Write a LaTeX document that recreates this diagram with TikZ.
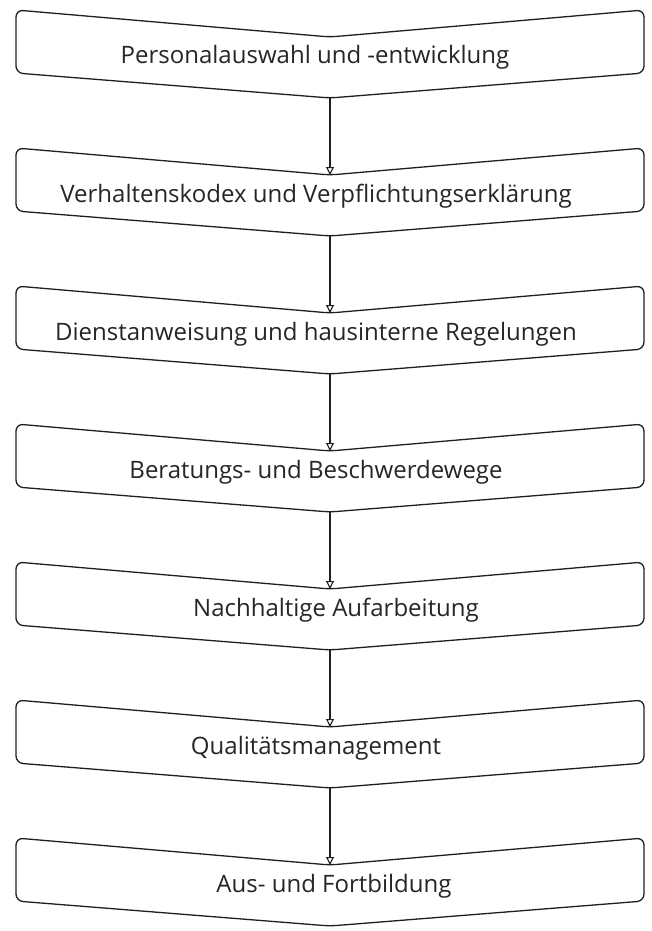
\documentclass[tikz,border=0pt]{standalone}
\usepackage{fontspec}
\setmainfont{Open Sans}
\usetikzlibrary{arrows.meta}
\begin{document}
\begin{tikzpicture}[x=1pt,y=-1pt,
  chev/.style={draw=black!88,line width=1.3pt,rounded corners=7pt,fill=white,line join=round},
  lbl/.style={font=\fontsize{24}{28}\selectfont,inner sep=0pt,text=black!85,anchor=base},
  conn/.style={draw=black!88,line width=1.1pt,-{Triangle[open,width=8pt,length=8pt]}}]
\useasboundingbox (0,0) rectangle (651,931);
\foreach \i/\tx/\t in {1/315/Personalauswahl und -entwicklung,
                   2/316/Verhaltenskodex und Verpflichtungserklärung,
                   3/316/Dienstanweisung und hausinterne Regelungen,
                   4/316/Beratungs- und Beschwerdewege,
                   5/336/Nachhaltige Aufarbeitung,
                   6/316/Qualitätsmanagement,
                   7/334/Aus- und Fortbildung}{
  \pgfmathsetmacro\y{10+138*(\i-1)}
  \draw[chev] (16,\y) -- (330,\y+27) -- (644,\y) -- (644,\y+63) -- (330,\y+88) -- (16,\y+63) -- cycle;
  \coordinate (n\i) at (330,\y+27);
  \coordinate (t\i) at (330,\y+88);
  \node[lbl] (b\i) at (\tx,\y+54) {\t};
}
\foreach \i [evaluate=\i as \j using int(\i+1)] in {1,...,6}
  \draw[conn] (t\i) -- (n\j);
\end{tikzpicture}
\end{document}
